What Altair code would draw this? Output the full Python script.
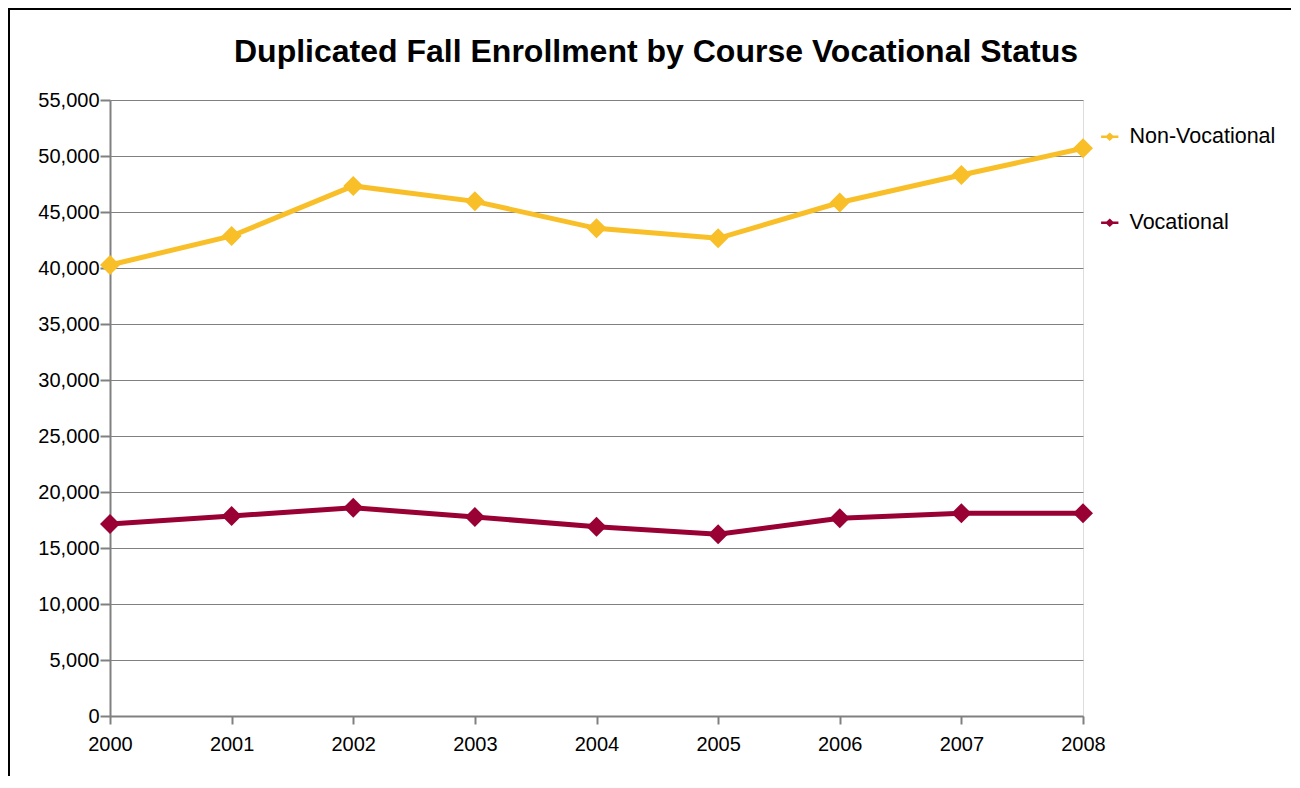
import altair as alt
import pandas as pd

years = ["2000", "2001", "2002", "2003", "2004", "2005", "2006", "2007", "2008"]
non_vocational = [40270, 42860, 47330, 45950, 43540, 42650, 45850, 48300, 50690]
vocational = [17140, 17860, 18600, 17770, 16900, 16220, 17650, 18100, 18100]
series_names = ["Non-Vocational", "Vocational"]
series_colors = ["#F8BF28", "#990033"]
title_text = "Duplicated Fall Enrollment by Course Vocational Status"

rows = []
for i, y in enumerate(years):
    rows.append({"Year": y, "Series": series_names[0], "Value": non_vocational[i]})
    rows.append({"Year": y, "Series": series_names[1], "Value": vocational[i]})
df = pd.DataFrame(rows)

FONT = "Liberation Sans"

x_enc = alt.X("Year:O", scale=alt.Scale(padding=0),
              axis=alt.Axis(title=None, labelAngle=0, labelFontSize=20, labelFont=FONT,
                            labelColor="#000000", tickSize=8, tickColor="#808080",
                            tickWidth=2, domainColor="#808080", domainWidth=2,
                            labelPadding=10, grid=False))
y_enc = alt.Y("Value:Q", scale=alt.Scale(domain=[0, 55000], nice=False),
              axis=alt.Axis(title=None, values=list(range(0, 55001, 5000)), format=",.0f",
                            labelFontSize=20, labelFont=FONT, labelColor="#000000",
                            tickSize=10, tickColor="#808080", tickWidth=2,
                            domainColor="#808080", domainWidth=2, labelPadding=1,
                            grid=True, gridColor="#808080", gridWidth=1))
color_scale = alt.Scale(domain=series_names, range=series_colors)

legend_path = ("M-1,-0.13L-0.37,-0.13L0,-0.5L0.37,-0.13L1,-0.13L1,0.13L0.37,0.13"
               "L0,0.5L-0.37,0.13L-1,0.13Z")
legend = alt.Legend(title=None, orient="none", legendX=989, legendY=26,
                    symbolType=legend_path, symbolSize=300, symbolStrokeWidth=0,
                    labelFontSize=21.5, labelFont=FONT,
                    labelColor="#000000", labelOffset=9, rowPadding=63)
color_enc = alt.Color("Series:N", scale=color_scale, legend=legend)

base = alt.Chart(df)
lines = base.mark_line(strokeWidth=5).encode(x=x_enc, y=y_enc, color=color_enc)
points = base.mark_point(shape="diamond", filled=True, size=400, opacity=1).encode(
    x=x_enc, y=y_enc, color=color_enc)

one = pd.DataFrame({"t": [title_text]})
frame = alt.Chart(one).mark_rect(
    fill=None, stroke="#000000", strokeWidth=2
).encode(x=alt.value(-101), x2=alt.value(1182), y=alt.value(-91), y2=alt.value(800))

title = alt.Chart(one).mark_text(
    font=FONT, fontSize=32, fontWeight="bold", color="#000000",
    align="center", baseline="alphabetic"
).encode(text="t:N", x=alt.value(546), y=alt.value(-38))

chart = alt.layer(frame, lines, points, title).properties(
    width=973, height=616,
    autosize=alt.AutoSizeParams(type="none"),
    padding={"left": 102, "top": 92, "right": 208, "bottom": 60},
).configure_view(stroke="#808080", strokeWidth=1.5).configure(background="white")

chart.save("out.html", embed_options={"renderer": "svg", "actions": False})
